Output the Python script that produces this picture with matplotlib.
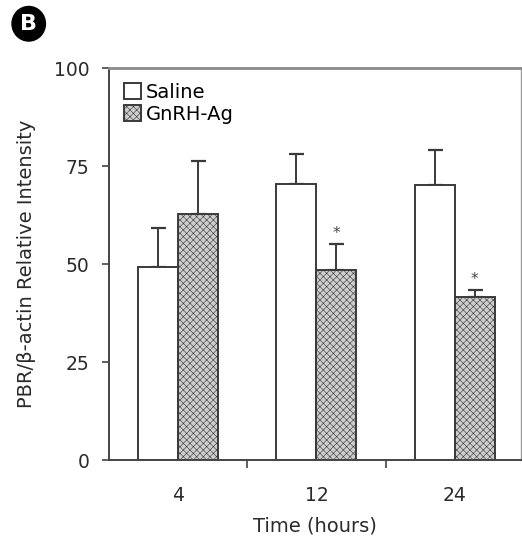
import matplotlib
matplotlib.use("Agg")
import matplotlib.pyplot as plt
import numpy as np
from matplotlib.patches import Circle

categories = ["4", "12", "24"]
saline = [49.3, 70.3, 70.2]
saline_err = [10.0, 7.7, 8.9]
gnrh = [62.7, 48.4, 41.7]
gnrh_err = [13.6, 6.8, 1.8]
significant = [False, True, True]
yticks = [0, 25, 50, 75, 100]

plt.rcParams['font.family'] = ['DejaVu Sans']
plt.rcParams['hatch.color'] = '#a9a9a9'
plt.rcParams['hatch.linewidth'] = 0.4

fig = plt.figure(figsize=(5.22, 5.40), dpi=100)
ax = fig.add_axes([0.209, 0.148, 0.789, 0.726])

x = np.arange(len(categories)) + 0.5
w = 0.29
edge = '#3a3a3a'
ax.bar(x - w/2, saline, w, color='white', edgecolor=edge, linewidth=1.4, label='Saline', zorder=2)
ax.bar(x + w/2, gnrh, w, color='#cdcdcd', edgecolor=edge, linewidth=1.4, hatch='xxxxx', label='GnRH-Ag', zorder=2)
ax.errorbar(x - w/2, saline, yerr=[np.zeros(3), saline_err], fmt='none', ecolor=edge,
            elinewidth=1.4, capsize=5.4, capthick=1.6, zorder=1)
ax.errorbar(x + w/2, gnrh, yerr=[np.zeros(3), gnrh_err], fmt='none', ecolor=edge,
            elinewidth=1.4, capsize=5.4, capthick=1.6, zorder=1)
for xi, v, e, s in zip(x, gnrh, gnrh_err, significant):
    if s:
        ax.text(xi + w/2, v + e + 0.6, '*', ha='center', va='bottom', fontsize=11, color='#444444')

ax.set_xlim(0, 2.98)
ax.set_ylim(0, 100)
ax.set_yticks(yticks)
ax.set_xticks(x)
ax.set_xticklabels(categories)
ax.set_xticks([1, 2], minor=True)
ax.tick_params(axis='x', which='major', length=0, pad=19, labelsize=13.5, colors='#2a2a2a')
ax.tick_params(axis='x', which='minor', length=6, width=1.2, direction='out', color='#444444')
ax.tick_params(axis='y', length=5, width=1.2, labelsize=13.5, pad=9, colors='#2a2a2a', color='#444444')
for side in ['left', 'bottom']:
    ax.spines[side].set_linewidth(1.4)
    ax.spines[side].set_color('#444444')
ax.spines['top'].set_linewidth(2.0)
ax.spines['top'].set_color('#8a8a8a')
ax.spines['right'].set_linewidth(1.0)
ax.spines['right'].set_color('#9a9a9a')

ax.set_xlabel('Time (hours)', fontsize=14, color='#2a2a2a', labelpad=8)
ax.set_ylabel('PBR/β-actin Relative Intensity', fontsize=14, color='#2a2a2a', labelpad=13)

ax.legend(loc='upper left', frameon=False, fontsize=14, handlelength=0.9, handleheight=0.9,
          handletextpad=0.25, labelspacing=0.15, borderaxespad=0.45, borderpad=0.3)

circ = Circle((0.055, 0.956), 0.032, transform=fig.transFigure, color='black', zorder=5)
fig.patches.append(circ)
fig.text(0.055, 0.956, 'B', ha='center', va='center', color='white', fontsize=16, fontweight='bold', zorder=6)

fig.savefig('out.png', dpi=100)
